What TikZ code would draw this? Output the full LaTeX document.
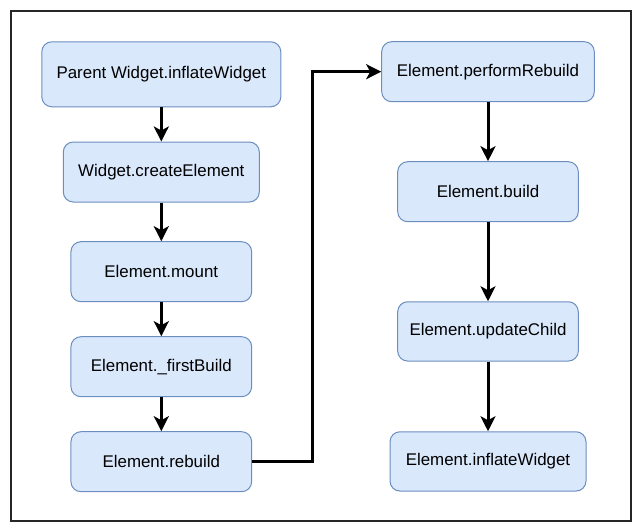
\documentclass[tikz,border=0pt]{standalone}
\usepackage{fontspec}
\setmainfont{Liberation Sans}
\usetikzlibrary{arrows.meta}
\definecolor{boxfill}{HTML}{DAE8FC}
\definecolor{boxline}{HTML}{6C8EBF}
\tikzset{
  flowbox/.style={draw=boxline, fill=boxfill, rounded corners=10pt, line width=1pt,
    inner sep=0pt, anchor=center, font=\fontsize{16.9}{20}\selectfont, text=black},
  flowarrow/.style={draw=black, line width=3pt,
    -{Stealth[length=15pt, width=15pt, inset=4pt]}},
}
\begin{document}
\begin{tikzpicture}[x=1pt, y=-1pt]
\useasboundingbox (0,0) rectangle (642,532);
\draw[line width=1.5pt, draw=black!85] (11,11) rectangle (631,521);

\node[flowbox, minimum width=239pt, minimum height=65pt] (n1) at (161.3,74.3) {Parent Widget.inflateWidget};
\node[flowbox, minimum width=196pt, minimum height=60pt] (n2) at (161.3,172) {Widget.createElement};
\node[flowbox, minimum width=180.7pt, minimum height=60pt] (n3) at (161.3,271.7) {Element.mount};
\node[flowbox, minimum width=180.7pt, minimum height=60pt] (n4) at (161.3,366.7) {Element.\_firstBuild};
\node[flowbox, minimum width=180.7pt, minimum height=60pt] (n5) at (161.3,461.7) {Element.rebuild};

\node[flowbox, minimum width=212.6pt, minimum height=60pt] (n6) at (488,71.7) {Element.performRebuild};
\node[flowbox, minimum width=180.6pt, minimum height=60pt] (n7) at (488,191.7) {Element.build};
\node[flowbox, minimum width=180.6pt, minimum height=59.3pt] (n8) at (488,331.4) {Element.updateChild};
\node[flowbox, minimum width=196pt, minimum height=59.3pt] (n9) at (488,461.4) {Element.inflateWidget};

\draw[flowarrow] (n1) -- (n2);
\draw[flowarrow] (n2) -- (n3);
\draw[flowarrow] (n3) -- (n4);
\draw[flowarrow] (n4) -- (n5);
\coordinate (bend) at (312,461.7);
\draw[flowarrow] (n5.east) -- (bend) |- (n6.west);
\draw[flowarrow] (n6) -- (n7);
\draw[flowarrow] (n7) -- (n8);
\draw[flowarrow] (n8) -- (n9);
\end{tikzpicture}
\end{document}
